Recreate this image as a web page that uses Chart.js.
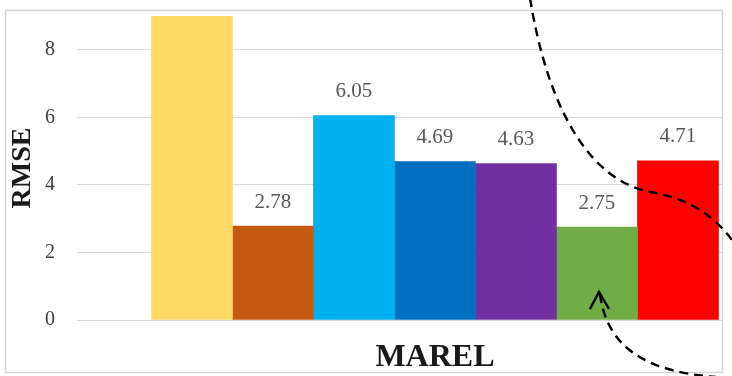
<!DOCTYPE html>
<html>
<head>
<meta charset="utf-8">
<script src="https://cdn.jsdelivr.net/npm/chart.js@4/dist/chart.umd.min.js"></script>
<style>
  body { margin: 0; background: #fff; }
  canvas { display: block; }
</style>
</head>
<body>
<canvas id="rmse-chart" width="732" height="376"></canvas>
<script>
var category = 'MAREL';
var seriesNames = ['M1', 'M2', 'M3', 'M4', 'M5', 'M6', 'M7'];
var rmseValues = [9.2, 2.78, 6.05, 4.69, 4.63, 2.75, 4.71];
var barColors = ['#FFD966', '#C55A11', '#00B0F0', '#0070C0', '#7030A0', '#70AD47', '#FF0000'];
var yTicks = [0, 2, 4, 6, 8];
var yMax = 9;

var serif = "'Liberation Serif', 'Times New Roman', serif";

// outer frame of the figure
var framePlugin = {
  id: 'frame',
  beforeDraw: function(chart){
    var ctx = chart.ctx;
    ctx.save();
    ctx.fillStyle = '#fff';
    ctx.fillRect(0, 0, chart.width, chart.height);
    ctx.strokeStyle = '#d6d6d6';
    ctx.lineWidth = 1.5;
    ctx.strokeRect(5.5, 10.5, 717, 362);
    ctx.restore();
  }
};

// numbers above each bar
var valueLabels = {
  id: 'valueLabels',
  afterDatasetsDraw: function(chart){
    var ctx = chart.ctx;
    ctx.save();
    ctx.font = '21px ' + serif;
    ctx.fillStyle = '#595959';
    ctx.textAlign = 'center';
    ctx.textBaseline = 'middle';
    chart.data.datasets.forEach(function(ds, i){
      var bar = chart.getDatasetMeta(i).data[0];
      var v = ds.data[0].y;
      if (v >= yMax) return;
      ctx.fillText(v.toFixed(2), bar.x, bar.y - 24);
    });
    ctx.restore();
  }
};

// dashed call-out curves and arrow
var calloutPlugin = {
  id: 'callout',
  afterDraw: function(chart){
    var ctx = chart.ctx;
    ctx.save();
    ctx.strokeStyle = '#000';
    ctx.lineWidth = 2.4;
    ctx.setLineDash([9, 6]);
    ctx.beginPath();
    ctx.moveTo(530, -2);
    ctx.bezierCurveTo(548, 110, 590, 180, 650, 192);
    ctx.bezierCurveTo(690, 198, 718, 218, 736, 246);
    ctx.stroke();
    ctx.beginPath();
    ctx.moveTo(600, 294);
    ctx.bezierCurveTo(607, 350, 650, 372, 716, 377);
    ctx.stroke();
    ctx.setLineDash([]);
    ctx.beginPath();
    ctx.moveTo(590, 309);
    ctx.lineTo(599, 292);
    ctx.lineTo(609, 309);
    ctx.stroke();
    ctx.restore();
  }
};

var datasets = seriesNames.map(function(name, i){
  return {
    label: name,
    data: [{x: 0, y: rmseValues[i]}],
    backgroundColor: barColors[i],
    borderWidth: 0,
    barThickness: 81
  };
});

var chart = new Chart(document.getElementById('rmse-chart').getContext('2d'), {
  type: 'bar',
  data: { datasets: datasets },
  options: {
    responsive: false,
    animation: false,
    layout: { padding: { left: 0, right: 10, top: 16, bottom: 0 } },
    plugins: {
      legend: { display: false },
      tooltip: { enabled: false }
    },
    scales: {
      x: {
        type: 'linear',
        offset: false,
        min: -0.555,
        max: 0.445,
        grid: { display: false },
        border: { display: false },
        afterBuildTicks: function(scale){ scale.ticks = [{value: 0}]; },
        afterFit: function(scale){
          scale.height = 56;
          scale.paddingLeft = 0;
          scale.paddingRight = 0;
        },
        ticks: {
          padding: 11,
          color: '#1a1a1a',
          font: { family: serif, size: 32, weight: 'bold' },
          callback: function(){ return category; }
        }
      },
      y: {
        min: 0,
        max: yMax,
        afterBuildTicks: function(scale){
          scale.ticks = yTicks.map(function(v){ return {value: v}; });
        },
        afterFit: function(scale){
          scale.width = 77;
          scale.paddingTop = 0;
          scale.paddingBottom = 0;
        },
        grid: { color: '#d9d9d9', lineWidth: 1, drawTicks: false },
        border: { display: false },
        ticks: {
          padding: 22,
          color: '#404040',
          font: { family: serif, size: 20 }
        },
        title: {
          display: true,
          text: 'RMSE',
          color: '#1a1a1a',
          padding: { top: 6, bottom: 0 },
          font: { family: serif, size: 28, weight: 'bold' }
        }
      }
    }
  },
  plugins: [framePlugin, valueLabels, calloutPlugin]
});
</script>
</body>
</html>
